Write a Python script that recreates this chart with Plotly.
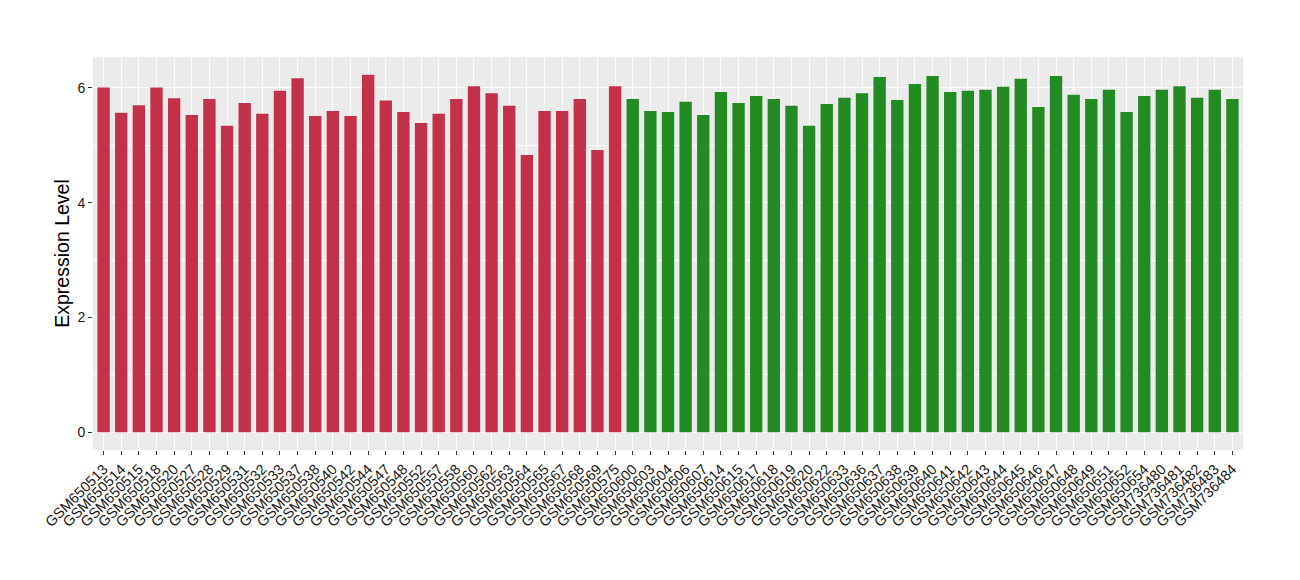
import plotly.graph_objects as go

samples_a = ["GSM650513","GSM650514","GSM650515","GSM650518","GSM650520","GSM650527","GSM650528","GSM650529","GSM650531","GSM650532",
             "GSM650533","GSM650537","GSM650538","GSM650540","GSM650542","GSM650544","GSM650547","GSM650548","GSM650552","GSM650557",
             "GSM650558","GSM650560","GSM650562","GSM650563","GSM650564","GSM650565","GSM650567","GSM650568","GSM650569","GSM650575"]
values_a = [6.01,5.57,5.70,6.01,5.82,5.53,5.81,5.34,5.74,5.55,
            5.95,6.17,5.51,5.60,5.51,6.23,5.78,5.58,5.39,5.55,
            5.81,6.03,5.91,5.69,4.83,5.60,5.60,5.81,4.92,6.03]

samples_b = ["GSM650600","GSM650603","GSM650604","GSM650606","GSM650607","GSM650614","GSM650615","GSM650617","GSM650618","GSM650619",
             "GSM650620","GSM650622","GSM650633","GSM650636","GSM650637","GSM650638","GSM650639","GSM650640","GSM650641","GSM650642",
             "GSM650643","GSM650644","GSM650645","GSM650646","GSM650647","GSM650648","GSM650649","GSM650651","GSM650652","GSM650654",
             "GSM736480","GSM736481","GSM736482","GSM736483","GSM736484"]
values_b = [5.81,5.60,5.58,5.76,5.53,5.93,5.74,5.86,5.81,5.69,
            5.34,5.72,5.83,5.91,6.19,5.79,6.07,6.21,5.93,5.95,
            5.97,6.02,6.16,5.67,6.21,5.88,5.81,5.97,5.58,5.86,
            5.97,6.03,5.83,5.97,5.81]

color_a = "#C3304A"
color_b = "#228B22"

fig = go.Figure()
fig.add_trace(go.Bar(x=samples_a, y=values_a, marker=dict(color=color_a, line=dict(width=0)), width=0.7, showlegend=False))
fig.add_trace(go.Bar(x=samples_b, y=values_b, marker=dict(color=color_b, line=dict(width=0)), width=0.7, showlegend=False))

n = len(samples_a) + len(samples_b)
fig.update_layout(
    width=1300, height=580,
    margin=dict(l=85, r=65, t=49, b=138, autoexpand=False),
    paper_bgcolor="white", plot_bgcolor="#EBEBEB",
    font=dict(family="Liberation Sans, Arial, sans-serif", color="#000000"),
    bargap=0.3,
)
fig.update_xaxes(
    type="category", categoryorder="array", categoryarray=samples_a + samples_b,
    range=[-0.6, n - 1 + 0.6], automargin=False,
    showgrid=True, gridcolor="white", gridwidth=1.1,
    ticks="outside", ticklen=4, tickcolor="#333333", tickwidth=1,
    tickangle=-45, tickfont=dict(size=14.5, color="#1a1a1a"),
    showline=False, zeroline=False,
)
fig.update_yaxes(
    range=[-0.31, 6.54], automargin=False,
    tickvals=[0, 2, 4, 6], ticktext=["0", "2", "4", "6"],
    showgrid=True, gridcolor="white", gridwidth=1.1,
    minor=dict(tickvals=[1, 3, 5], showgrid=True, gridcolor="white", gridwidth=0.5, ticks=""),
    ticks="outside", ticklen=4, tickcolor="#333333", tickwidth=1,
    tickfont=dict(size=14, color="#1a1a1a"),
    title=dict(text="Expression Level", font=dict(size=19.5, color="#000000"), standoff=2),
    zeroline=False, showline=False,
)
fig.write_html("out.html")
